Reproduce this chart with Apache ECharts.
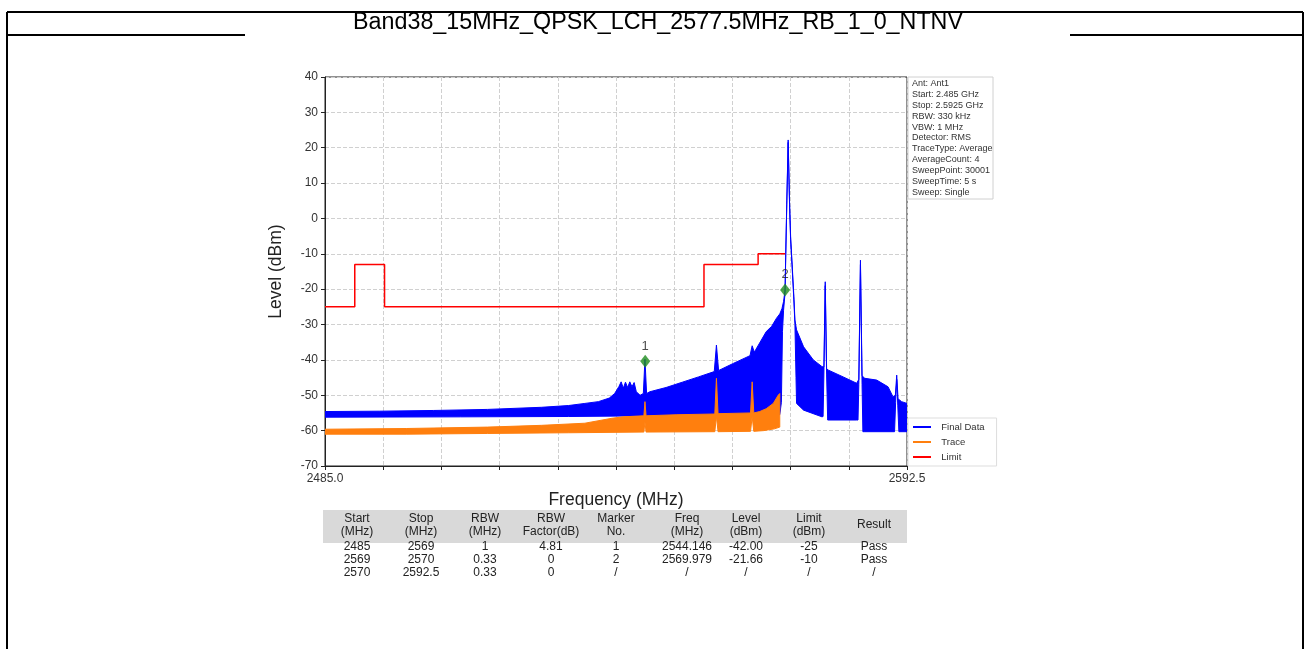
<!DOCTYPE html>
<html><head><meta charset="utf-8">
<script src="https://cdn.jsdelivr.net/npm/echarts@6.0.0/dist/echarts.min.js"></script>
<style>html,body{margin:0;padding:0;background:#fff}#c{width:1310px;height:649px}</style>
</head><body><div id="c"></div>
<script>
// ---------------- data ----------------
const chartTitle = 'Band38_15MHz_QPSK_LCH_2577.5MHz_RB_1_0_NTNV';
const xTickValues = [2485, 2495.75, 2506.5, 2517.25, 2528, 2538.75, 2549.5, 2560.25, 2571, 2581.75, 2592.5];
const xLabelValues = [2485, 2592.5];

// Final Data (blue) envelope
const blueUpF = [2485, 2495, 2505, 2515, 2525, 2530, 2533, 2535.5, 2537.5, 2538.5, 2539.3, 2539.7, 2540.1, 2540.5, 2540.9, 2541.3, 2541.7, 2542.1, 2542.5, 2543.2, 2543.8, 2544.1, 2544.4, 2545, 2548, 2551, 2554, 2556.9, 2557.3, 2557.7, 2560.4, 2563.5, 2563.9, 2564.3, 2566.5, 2567.5, 2568.4, 2569.0, 2569.4, 2569.7, 2569.98, 2570.1, 2570.3, 2570.55, 2570.8, 2571.0, 2571.25, 2571.6, 2571.8, 2572.1, 2573.4, 2575.2, 2576.8, 2577.15, 2577.4, 2577.65, 2578.0, 2580.7, 2583.2, 2583.6, 2583.9, 2584.2, 2584.7, 2586.9, 2589.0, 2589.9, 2590.35, 2590.6, 2590.85, 2591.5, 2592.5];
const blueUpV = [-54.6, -54.5, -54.3, -54.0, -53.4, -52.9, -52.3, -51.8, -50.8, -49.5, -47.5, -46.2, -48.0, -46.3, -47.8, -46.2, -47.6, -46.4, -49.0, -50.0, -49.5, -39.8, -49.5, -49.0, -47.8, -46.3, -44.8, -43.3, -35.8, -43.0, -41.0, -38.8, -36.0, -37.8, -32.0, -30.5, -28.2, -27.0, -25.5, -23.5, -20.2, -10.0, 5.0, 22.2, 5.0, -5.0, -12.0, -22.0, -28.7, -31.5, -36.3, -40.0, -41.9, -42.0, -17.9, -42.5, -42.9, -44.8, -46.6, -45.5, -11.8, -44.5, -45.2, -45.7, -47.6, -50.4, -50.0, -44.3, -51.0, -51.8, -52.3];
const blueLoF = [2485, 2510, 2530, 2569.0, 2569.3, 2569.5, 2569.7, 2569.98, 2570.1, 2570.3, 2570.55, 2570.8, 2571.0, 2571.25, 2571.6, 2571.8, 2572.0, 2572.1, 2573.4, 2576.8, 2577.0, 2577.15, 2577.4, 2577.65, 2577.85, 2583.2, 2583.45, 2583.6, 2583.9, 2584.2, 2584.35, 2584.6, 2590.2, 2590.4, 2590.6, 2590.8, 2591.0, 2592.5];
const blueLoV = [-56.2, -56.1, -56.0, -55.5, -52.0, -32.0, -26.0, -21.0, -11.0, 4.0, 21.5, 4.0, -6.0, -13.0, -23.0, -30.0, -45.0, -52.3, -54.2, -56.1, -56.0, -44.0, -19.0, -44.0, -57.0, -57.0, -57.0, -47.0, -13.0, -47.0, -60.3, -60.3, -60.3, -52.0, -45.5, -53.0, -60.3, -60.3];

// Trace (orange) envelope
const orUpF = [2485, 2500, 2515, 2525, 2533, 2538, 2540, 2543.9, 2544.1, 2544.3, 2550, 2557.0, 2557.3, 2557.6, 2563.6, 2563.9, 2564.2, 2565.3, 2566.5, 2567.8, 2568.7, 2569.0];
const orUpV = [-59.6, -59.4, -59.0, -58.5, -57.9, -56.5, -56.1, -55.8, -51.8, -55.8, -55.5, -55.3, -45.2, -55.2, -55.0, -46.2, -55.0, -54.6, -53.8, -52.3, -50.0, -49.5];
const orLoF = [2485, 2500, 2515, 2530, 2543.9, 2544.1, 2544.3, 2557.0, 2557.3, 2557.6, 2563.6, 2563.9, 2564.2, 2566, 2568, 2569.0];
const orLoV = [-61.0, -61.0, -60.8, -60.6, -60.4, -57.5, -60.4, -60.3, -56.0, -60.3, -60.2, -56.0, -60.2, -60.0, -59.5, -59.0];

// Limit (step starts)
const limitF = [2485, 2490.5, 2496, 2555, 2565, 2570];
const limitV = [-25, -13, -25, -13, -10, -10];

// Markers
const markerNo = ['1', '2'];
const markerF = [2544.146, 2569.979];
const markerV = [-40.4, -20.2];

// Info box
const infoLines = ['Ant: Ant1', 'Start: 2.485 GHz', 'Stop: 2.5925 GHz', 'RBW: 330 kHz', 'VBW: 1 MHz', 'Detector: RMS', 'TraceType: Average', 'AverageCount: 4', 'SweepPoint: 30001', 'SweepTime: 5 s', 'Sweep: Single'];

// Table
const tableHeader = ['Start\n(MHz)', 'Stop\n(MHz)', 'RBW\n(MHz)', 'RBW\nFactor(dB)', 'Marker\nNo.', 'Freq\n(MHz)', 'Level\n(dBm)', 'Limit\n(dBm)', 'Result'];
const tableRow1 = ['2485', '2569', '1', '4.81', '1', '2544.146', '-42.00', '-25', 'Pass'];
const tableRow2 = ['2569', '2570', '0.33', '0', '2', '2569.979', '-21.66', '-10', 'Pass'];
const tableRow3 = ['2570', '2592.5', '0.33', '0', '/', '/', '/', '/', '/'];

// ---------------- layout ----------------
const FONT = '"Liberation Sans", Arial, sans-serif';
const colX = [357, 421, 485, 551, 616, 687, 746, 809, 874];
const rowY = [547, 560, 573];

function poly(uf, uv, lf, lv) {
  const pts = [];
  for (let i = 0; i < uf.length; i++) pts.push([uf[i], uv[i]]);
  for (let i = lf.length - 1; i >= 0; i--) pts.push([lf[i], lv[i]]);
  return pts;
}
const bluePoly = poly(blueUpF, blueUpV, blueLoF, blueLoV);
const orangePoly = poly(orUpF, orUpV, orLoF, orLoV);

function polyRender(pts, color) {
  return function (params, api) {
    if (params.dataIndex !== 0) return null;
    const points = pts.map(p => api.coord(p));
    return { type: 'polygon', shape: { points: points }, style: { fill: color, stroke: color, lineWidth: 1 }, silent: true };
  };
}

const graphics = [];
const frameStyle = { stroke: '#000', lineWidth: 2 };
graphics.push({ type: 'line', shape: { x1: 7, y1: 12, x2: 1303, y2: 12 }, style: frameStyle });
graphics.push({ type: 'line', shape: { x1: 7, y1: 12, x2: 7, y2: 649 }, style: frameStyle });
graphics.push({ type: 'line', shape: { x1: 1303, y1: 12, x2: 1303, y2: 649 }, style: frameStyle });
graphics.push({ type: 'line', shape: { x1: 7, y1: 35, x2: 245, y2: 35 }, style: frameStyle });
graphics.push({ type: 'line', shape: { x1: 1070, y1: 35, x2: 1303, y2: 35 }, style: frameStyle });
graphics.push({ type: 'text', style: { text: chartTitle, x: 658, y: 23, align: 'center', verticalAlign: 'middle', font: '23.3px ' + FONT, fill: '#000' } });
graphics.push({ type: 'rect', shape: { x: 908, y: 77, width: 85, height: 122 }, style: { fill: '#fff', stroke: '#d0d0d0', lineWidth: 1 } });
graphics.push({ type: 'text', style: { text: infoLines.join('\n'), x: 912, y: 78, align: 'left', verticalAlign: 'top', font: '9px ' + FONT, lineHeight: 10.9, fill: '#333' } });
graphics.push({ type: 'rect', shape: { x: 323, y: 510, width: 584, height: 33 }, style: { fill: '#d9d9d9' } });
tableHeader.forEach((t, i) => {
  graphics.push({ type: 'text', style: { text: t, x: colX[i], y: 525, align: 'center', verticalAlign: 'middle', font: '12px ' + FONT, lineHeight: 13, fill: '#222' } });
});
[tableRow1, tableRow2, tableRow3].forEach((row, r) => {
  row.forEach((t, i) => {
    graphics.push({ type: 'text', style: { text: t, x: colX[i], y: rowY[r], align: 'center', verticalAlign: 'middle', font: '12px ' + FONT, fill: '#222' } });
  });
});

const chart = echarts.init(document.getElementById('c'), null, { renderer: 'canvas' });
const option = {
  animation: false,
  backgroundColor: '#fff',
  textStyle: { fontFamily: FONT },
  grid: { left: 325, top: 77, width: 582, height: 389, show: true, borderColor: '#222', borderWidth: 1, backgroundColor: 'transparent', containLabel: false },
  legend: {
    data: ['Final Data', 'Trace', 'Limit'], orient: 'vertical', left: 908, top: 418,
    icon: 'rect', itemWidth: 18, itemHeight: 2, itemGap: 5,
    formatter: name => '  ' + name,
    textStyle: { fontSize: 9.5, color: '#333', fontFamily: FONT },
    backgroundColor: '#fff', borderColor: '#ddd', borderWidth: 1, padding: [4, 12, 4, 5]
  },
  xAxis: {
    type: 'value', min: 2485, max: 2592.5,
    name: 'Frequency (MHz)', nameLocation: 'middle', nameGap: 25,
    nameTextStyle: { fontSize: 17.5, color: '#222', fontFamily: FONT },
    axisLine: { show: true, onZero: false, lineStyle: { color: '#222', width: 1 } },
    axisTick: { show: true, length: 4, customValues: xTickValues, lineStyle: { color: '#222' } },
    axisLabel: { customValues: xLabelValues, fontSize: 12, color: '#333', margin: 7, formatter: v => v.toFixed(1) },
    splitLine: { show: true, lineStyle: { color: '#d0d0d0', type: 'dashed', width: 1 } }
  },
  yAxis: {
    type: 'value', min: -70, max: 40, interval: 10,
    name: 'Level (dBm)', nameLocation: 'middle', nameGap: 40,
    nameTextStyle: { fontSize: 17.5, color: '#222', fontFamily: FONT },
    axisLine: { show: true, onZero: false, lineStyle: { color: '#222', width: 1 } },
    axisTick: { show: true, length: 4, lineStyle: { color: '#222' } },
    axisLabel: { fontSize: 12, color: '#333', margin: 7 },
    splitLine: { show: true, lineStyle: { color: '#d0d0d0', type: 'dashed', width: 1 } }
  },
  series: [
    { name: 'Final Data', type: 'custom', clip: true, itemStyle: { color: '#0000ff' }, encode: { x: 0, y: 1 }, data: bluePoly, renderItem: polyRender(bluePoly, '#0000ff'), z: 2 },
    { name: 'Trace', type: 'custom', clip: true, itemStyle: { color: '#ff7f0e' }, encode: { x: 0, y: 1 }, data: orangePoly, renderItem: polyRender(orangePoly, '#ff7f0e'), z: 3 },
    { name: 'Limit', type: 'line', step: 'end', showSymbol: false, symbol: 'none', lineStyle: { color: '#ff0000', width: 1.5 }, itemStyle: { color: '#ff0000' }, data: limitF.map((f, i) => [f, limitV[i]]), z: 4 },
    { name: 'Markers', type: 'scatter', symbol: 'diamond', symbolSize: [10, 13], itemStyle: { color: '#1e8c1e' }, z: 5,
      label: { show: true, position: 'top', distance: 2, fontSize: 13, color: '#222', formatter: p => p.data[2] },
      data: markerF.map((f, i) => [f, markerV[i], markerNo[i]]) }
  ],
  graphic: graphics
};
chart.setOption(option);
</script></body></html>
